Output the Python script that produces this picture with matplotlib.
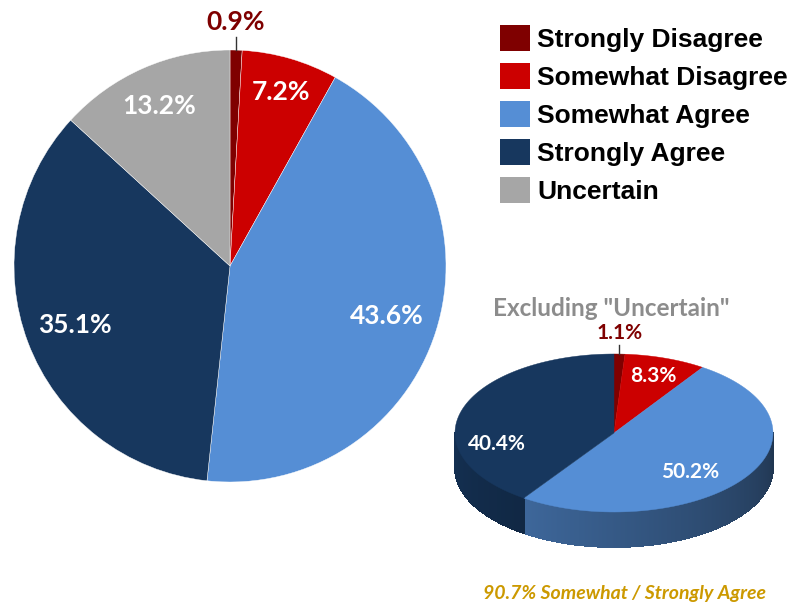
import numpy as np
import matplotlib.pyplot as plt
from matplotlib.patches import Polygon, Patch
from matplotlib.collections import PolyCollection
import matplotlib.colors as mcolors

# data
categories = ["Strongly Disagree", "Somewhat Disagree", "Somewhat Agree",
              "Strongly Agree", "Uncertain"]
all_values = [0.9, 7.2, 43.6, 35.1, 13.2]
excl_categories = ["Strongly Disagree", "Somewhat Disagree", "Somewhat Agree",
                   "Strongly Agree"]
excl_values = [1.1, 8.3, 50.2, 40.4]
colors = {"Strongly Disagree": "#7F0000", "Somewhat Disagree": "#CC0000",
          "Somewhat Agree": "#558ED5", "Strongly Agree": "#17375E",
          "Uncertain": "#A6A6A6"}
summary_text = "90.7% Somewhat / Strongly Agree"

W, H = 797, 603
fig = plt.figure(figsize=(W / 100, H / 100), dpi=100)
pct_font = "Lato"


def px_rect(cx, cy, r):
    return [(cx - r) / W, (H - cy - r) / H, 2 * r / W, 2 * r / H]


# big pie
ax = fig.add_axes(px_rect(230, 266, 216))
wedges, _ = ax.pie(all_values, colors=[colors[c] for c in categories],
                   startangle=90, counterclock=False, radius=1,
                   wedgeprops=dict(linewidth=0.3, edgecolor="white"))
ax.set_xlim(-1, 1)
ax.set_ylim(-1, 1)
ax.set_aspect("equal")

big_lab_r = [None, 0.84, 0.76, 0.77, 0.81]
cum = np.cumsum([0] + all_values) / sum(all_values)
for i, v in enumerate(all_values):
    mid = np.deg2rad(90 - 360 * (cum[i] + cum[i + 1]) / 2)
    if big_lab_r[i] is None:
        x0, y0 = np.cos(mid), np.sin(mid)
        ax.plot([x0, x0], [y0, y0 + 0.06], color="#333333", lw=1, clip_on=False)
        ax.text(x0, y0 + 0.075, f"{v}%", ha="center", va="bottom",
                fontsize=19, fontweight="bold", color="#7F0000",
                family=pct_font)
    else:
        r = big_lab_r[i]
        ax.text(r * np.cos(mid), r * np.sin(mid), f"{v}%", ha="center",
                va="center", fontsize=19, fontweight="bold", color="white",
                family=pct_font)

# legend
handles = [Patch(facecolor=colors[c], edgecolor="none") for c in categories]
fig.legend(handles, categories, loc="upper left",
           bbox_to_anchor=(500 / W, 1 - 25 / H), frameon=False,
           prop=dict(family="Liberation Sans", weight="bold", size=19),
           handlelength=1.14, handleheight=1.14, handletextpad=0.27,
           labelspacing=0.42, borderpad=0, borderaxespad=0)

# small 3D pie in pixel coordinates
ax3 = fig.add_axes([0, 0, 1, 1])
ax3.set_xlim(0, W)
ax3.set_ylim(H, 0)
ax3.axis("off")
ax3.set_zorder(-1)

cx, cy, a, b, depth = 614, 433, 159, 79, 35


def ell(t):
    t = np.deg2rad(t)
    return cx + a * np.cos(t), cy - b * np.sin(t)


ecum = np.cumsum([0] + excl_values) / sum(excl_values)
# side walls (front half only)
quads, qcols = [], []
for i, c in enumerate(excl_categories):
    t_start = 90 - 360 * ecum[i + 1]
    t_end = 90 - 360 * ecum[i]
    ts = np.append(np.arange(t_start, t_end, 0.5), t_end)
    base = np.array(mcolors.to_rgb(colors[c]))
    for t0, t1 in zip(ts[:-1], ts[1:]):
        tm = (t0 + t1) / 2 % 360
        if not (180 <= tm <= 360):
            continue
        shade = 0.88 - 0.5 * (tm - 180) / 180
        x0, y0 = ell(t0)
        x1, y1 = ell(t1)
        quads.append([(x0, y0), (x1, y1), (x1, y1 + depth), (x0, y0 + depth)])
        qcols.append(base * shade)
ax3.add_collection(PolyCollection(quads, facecolors=qcols, edgecolors=qcols,
                                  linewidths=0.6, antialiaseds=False))

# top face
for i, c in enumerate(excl_categories):
    t_start = 90 - 360 * ecum[i + 1]
    t_end = 90 - 360 * ecum[i]
    ts = np.linspace(t_start, t_end, 100)
    pts = [(cx, cy)] + [ell(t) for t in ts]
    ax3.add_patch(Polygon(pts, closed=True, facecolor=colors[c],
                          edgecolor=colors[c], lw=0.3))

small_lab_r = [None, 0.76, 0.58, 0.77]
small_lab_dy = [0, 0, 13, 29]
for i, v in enumerate(excl_values):
    mid = 90 - 360 * (ecum[i] + ecum[i + 1]) / 2
    if small_lab_r[i] is None:
        x0, y0 = ell(mid)
        ax3.plot([x0, x0], [y0, y0 - 9], color="#333333", lw=1)
        ax3.text(x0, y0 - 11, f"{v}%", ha="center", va="bottom",
                 fontsize=15, fontweight="bold", color="#7F0000",
                 family=pct_font)
    else:
        r = small_lab_r[i]
        t = np.deg2rad(mid)
        ax3.text(cx + r * a * np.cos(t), cy - r * b * np.sin(t) + small_lab_dy[i],
                 f"{v}%", ha="center", va="center", fontsize=15,
                 fontweight="bold", color="white", family=pct_font)

ax3.text(cx - 3, 309, 'Excluding "Uncertain"', ha="center", va="center",
         fontsize=17.5, fontweight="bold", color="#8C8C8C", family=pct_font)
ax3.text(625, 594, summary_text, ha="center", va="center", fontsize=14,
         fontweight="bold", style="italic", color="#CC9900", family=pct_font)

fig.savefig("out.png", dpi=100)
